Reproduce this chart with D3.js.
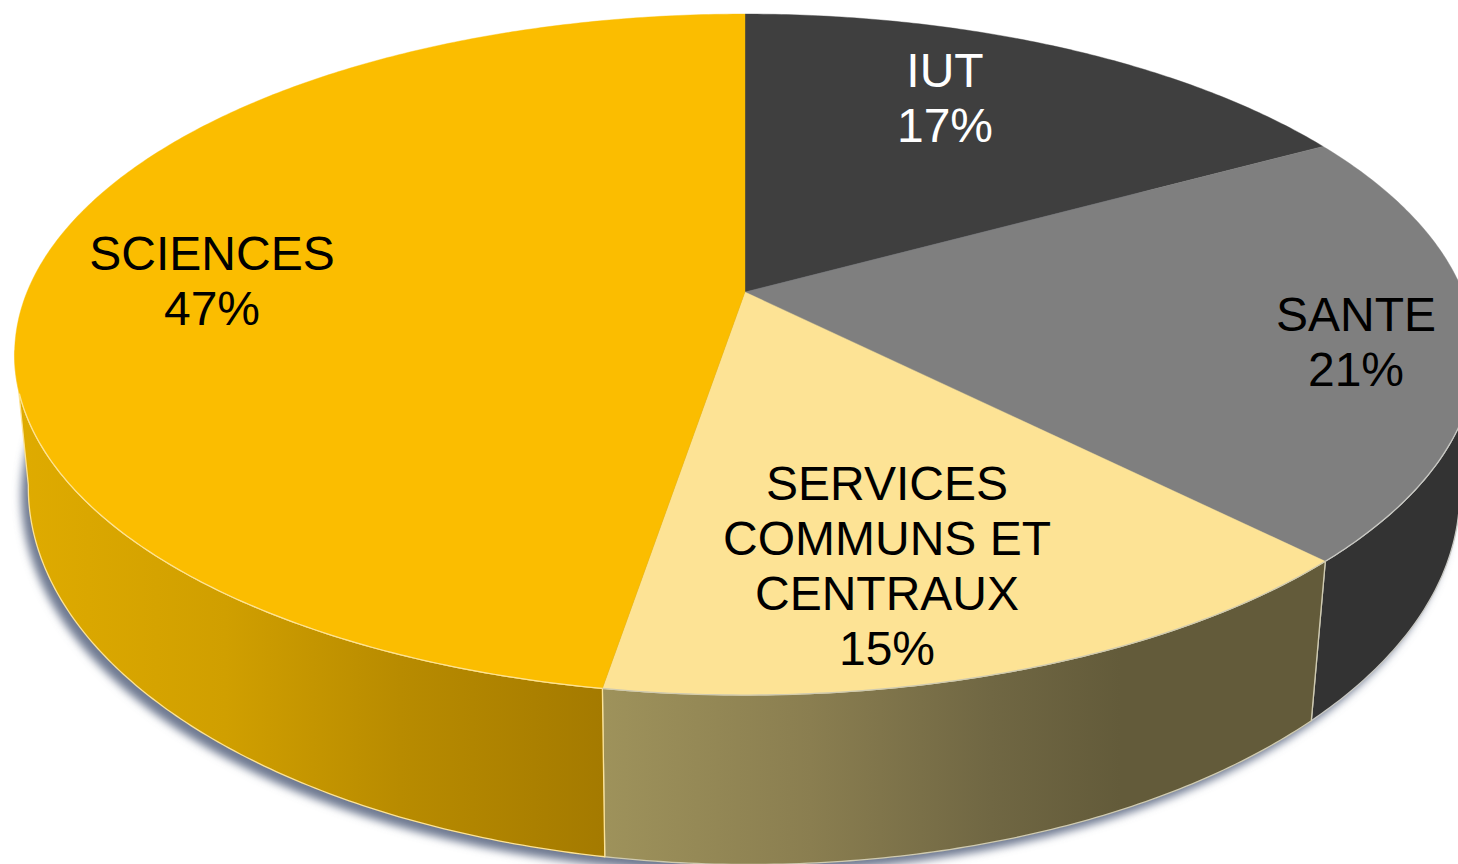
<!DOCTYPE html>
<html><head><meta charset="utf-8">
<script src="https://cdn.jsdelivr.net/npm/d3@7/dist/d3.min.js"></script>
<style>html,body{margin:0;padding:0;background:#fff;overflow:hidden}svg{display:block}</style>
</head><body><script>
const categories = ["IUT", "SANTE", "SERVICES COMMUNS ET CENTRAUX", "SCIENCES"];
const values = [17, 20.6, 15, 47.4];
const labelLines = [["IUT"], ["SANTE"], ["SERVICES", "COMMUNS ET", "CENTRAUX"], ["SCIENCES"]];
const topColors = ["#3f3f3f", "#7f7f7f", "#fde395", "#fbbd00"];

// Layout (not data)
const W = 1458, H = 864;
const labelAnchor = [[945, 87], [1356, 331], [887, 500], [212, 270]];
const labelColor = ["#fff", "#000", "#000", "#000"];
const topRing = {cx: 745, cy: 292, A: 718, B: 329, k: 0.1836, tilt: 0};
const lowRing = {cx: 744, cy: 423, A: 704, B: 362, k: 0.18, tilt: 0.004};
const ring = (r, a) => {
  const u = Math.sin(a), v = Math.cos(a), w = 1 + r.k * v;
  const x = r.cx + r.A * u / w;
  return [x, r.cy - r.B * v / w + (x - r.cx) * r.tilt];
};
const arcPts = (r, a0, a1) => {
  const n = Math.max(2, Math.ceil(Math.abs(a1 - a0) / 0.01));
  return d3.range(n + 1).map(i => ring(r, a0 + (a1 - a0) * i / n));
};
const line = d3.line();
const tau = 2 * Math.PI;
const deg = Math.PI / 180;

const svg = d3.select("body").append("svg").attr("width", W).attr("height", H)
  .style("background", "#fff");
const defs = svg.append("defs");
defs.append("filter").attr("id", "shadow").attr("x", "-5%").attr("y", "-5%").attr("width", "110%").attr("height", "110%")
  .append("feGaussianBlur").attr("stdDeviation", 4);

const gradient = (id, x1, x2, stops) => {
  const g = defs.append("linearGradient").attr("id", id).attr("gradientUnits", "userSpaceOnUse")
    .attr("x1", x1).attr("x2", x2).attr("y1", 0).attr("y2", 0);
  stops.forEach(([o, c]) => g.append("stop").attr("offset", o).attr("stop-color", c));
};
gradient("wallSci", 20, 606, [[0, "#dfab00"], [0.35, "#d09f00"], [0.65, "#b88b00"], [1, "#a47a00"]]);
gradient("wallSrv", 604, 1120, [[0, "#9e925b"], [0.4, "#8a7e50"], [0.75, "#706743"], [1, "#635b3a"]]);

const arcs = d3.pie().sort(null).value(d => d).startAngle(0).endAngle(tau)(values);

// Soft drop shadow below the lower rim
svg.append("path")
  .attr("d", line(arcPts(lowRing, 0, tau)) + "Z")
  .attr("transform", "translate(-7,8)")
  .attr("fill", "#6f7a92")
  .attr("filter", "url(#shadow)");

// Side walls: front part of each slice
const wallFill = [null, "#333333", "url(#wallSrv)", "url(#wallSci)"];
const wallStroke = [null, "#c9c9c4", "#cfcab0", "#fde395"];
arcs.forEach((d, i) => {
  if (i === 0) return;
  const a0 = i === 1 ? 100 * deg : d.startAngle;
  const a1 = i === 3 ? 260 * deg : d.endAngle;
  const top = arcPts(topRing, a0, a1), low = arcPts(lowRing, a1, a0);
  svg.append("path").attr("d", line(top.concat(low)) + "Z")
    .attr("fill", wallFill[i]).attr("stroke", wallStroke[i]).attr("stroke-width", 1.3)
    .attr("stroke-linejoin", "round");
});

// Top faces
arcs.forEach((d, i) => {
  const apex = [topRing.cx, topRing.cy];
  svg.append("path").attr("d", line([apex].concat(arcPts(topRing, d.startAngle, d.endAngle))) + "Z")
    .attr("fill", topColors[i]).attr("stroke", topColors[i]).attr("stroke-width", 0.4);
});

// Pale rim between the top face and the wall
arcs.forEach((d, i) => {
  if (i === 0) return;
  const a0 = i === 1 ? 100 * deg : d.startAngle;
  const a1 = i === 3 ? 253 * deg : d.endAngle;
  svg.append("path").attr("d", line(arcPts(topRing, a0, a1)))
    .attr("fill", "none").attr("stroke", wallStroke[i]).attr("stroke-width", 1.2);
});

// Labels
const pct = d3.format(".0f");
const lh = 55;
categories.forEach((c, i) => {
  const t = svg.append("text").attr("text-anchor", "middle")
    .attr("font-family", "'Liberation Sans', Arial, sans-serif")
    .attr("font-size", 48).attr("fill", labelColor[i])
    .attr("transform", `translate(${labelAnchor[i][0]},${labelAnchor[i][1]})`);
  labelLines[i].concat([pct(values[i]) + "%"]).forEach((s, j) => {
    t.append("tspan").attr("x", 0).attr("y", j * lh).text(s);
  });
});
</script></body></html>
